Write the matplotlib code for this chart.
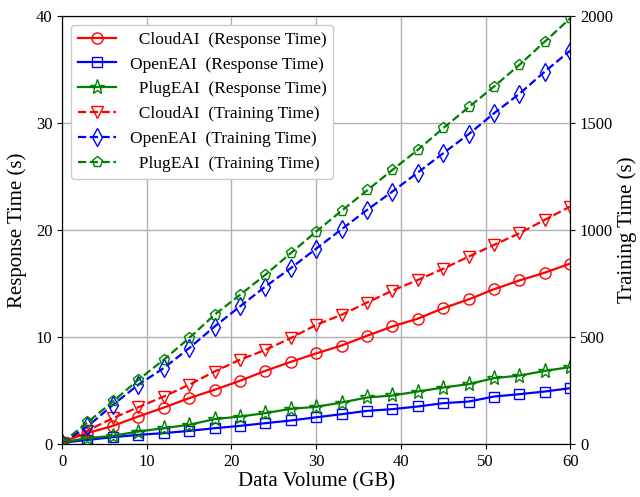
import matplotlib.pyplot as plt
import numpy as np

plt.rcParams['font.family'] = ['Liberation Serif', 'DejaVu Serif']
plt.rcParams['mathtext.fontset'] = 'stix'

# data volume (GB)
volume = np.arange(0, 61, 3)

# response time (s), left axis
cloud_resp = [0.2, 1.0, 1.68, 2.55, 3.39, 4.27, 5.05, 5.89, 6.82, 7.66, 8.45,
              9.19, 10.1, 10.97, 11.7, 12.68, 13.5, 14.45, 15.27, 16.0, 16.85]
open_resp = [0.1, 0.37, 0.62, 0.84, 1.0, 1.21, 1.46, 1.68, 1.93, 2.18, 2.48,
             2.77, 3.08, 3.24, 3.49, 3.80, 3.95, 4.42, 4.64, 4.89, 5.2]
plug_resp = [0.15, 0.53, 0.75, 1.15, 1.46, 1.78, 2.31, 2.55, 2.87, 3.27, 3.46,
             3.86, 4.33, 4.52, 4.89, 5.26, 5.58, 6.14, 6.38, 6.82, 7.17]

# training time (s), right axis
cloud_train = [5, 62, 120, 171, 221, 276, 338, 393, 439, 494, 556,
               603, 660, 716, 766, 818, 875, 930, 984, 1047, 1109]
open_train = [5, 81, 182, 276, 354, 447, 548, 642, 735, 821, 912,
              1003, 1093, 1179, 1268, 1358, 1447, 1545, 1636, 1740, 1838]
plug_train = [5, 100, 198, 299, 393, 494, 603, 696, 790, 891, 992,
              1089, 1184, 1280, 1374, 1475, 1573, 1670, 1771, 1880, 1989]

fig = plt.figure(figsize=(6.4, 4.97), dpi=100)
ax = fig.add_axes([0.097, 0.107, 0.794, 0.861])
ax2 = ax.twinx()

ms = 8
lw = 1.6
l1, = ax.plot(volume, cloud_resp, '-', color='red', marker='o', ms=ms, mfc='none', lw=lw,
              label='  CloudAI  (Response Time)')
l2, = ax.plot(volume, open_resp, '-', color='blue', marker='s', ms=ms-1, mfc='none', lw=lw,
              label='OpenEAI  (Response Time)')
l3, = ax.plot(volume, plug_resp, '-', color='green', marker='*', ms=ms+3, mfc='none', lw=lw,
              label='  PlugEAI  (Response Time)')
l4, = ax2.plot(volume, cloud_train, '--', color='red', marker='v', ms=ms, mfc='none', lw=lw,
               label='  CloudAI  (Training Time)')
l5, = ax2.plot(volume, open_train, '--', color='blue', marker='d', ms=ms+1, mfc='none', lw=lw,
               label='OpenEAI  (Training Time)')
l6, = ax2.plot(volume, plug_train, '--', color='green', marker='p', ms=ms, mfc='none', lw=lw,
               label='  PlugEAI  (Training Time)')

ax.set_xlim(0, 60)
ax.set_ylim(0, 40)
ax2.set_ylim(0, 2000)
ax.set_xticks(range(0, 61, 10))
ax.set_yticks(range(0, 41, 10))
ax2.set_yticks(range(0, 2001, 500))
ax.grid(True, color='#b0b0b0', lw=1)
ax.set_axisbelow(True)

ax.set_xlabel('Data Volume (GB)', fontsize=15, labelpad=2)
ax.set_ylabel('Response Time (s)', fontsize=15, labelpad=6)
ax2.set_ylabel('Training Time (s)', fontsize=15, labelpad=3)
ax.tick_params(labelsize=12)
ax2.tick_params(labelsize=12)

handles = [l1, l2, l3, l4, l5, l6]
ax2.legend(handles, [h.get_label() for h in handles], loc='upper left', fontsize=12.5,
           handlelength=2.2, framealpha=1, borderaxespad=0.5)

fig.savefig('out.png', dpi=100)
